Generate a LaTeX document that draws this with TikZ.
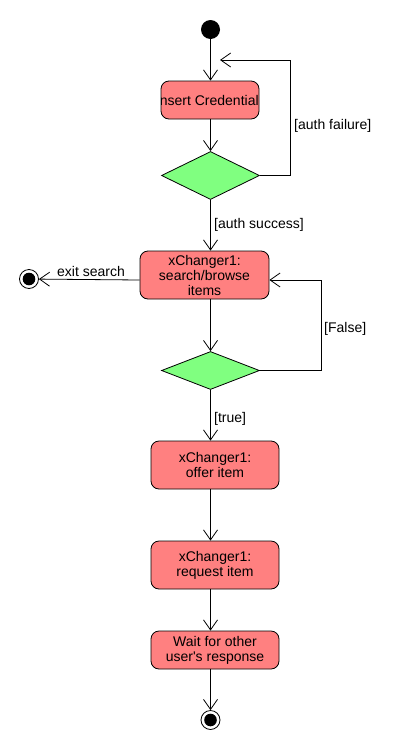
\documentclass[tikz,border=0pt]{standalone}
\usepackage{fontspec}
\setmainfont{Liberation Sans}
\usetikzlibrary{shapes.geometric,arrows.meta}
\definecolor{actred}{RGB}{255,128,128}
\definecolor{decgreen}{RGB}{128,255,128}
\begin{document}
\begin{tikzpicture}[x=1pt,y=-1pt,
  txt/.style={font=\fontsize{14}{15}\selectfont, inner sep=0pt},
  act/.style={draw=black, fill=actred, rounded corners=8pt, line width=0.8pt,
    align=center, txt, minimum width=#1},
  act/.default=128pt,
  dec/.style={draw=black, fill=decgreen, diamond, line width=0.8pt, inner sep=0pt,
    minimum width=98pt},
  arr/.style={line width=0.8pt, -{Straight Barb[length=10pt,width=14pt,line width=0.8pt]}},
  lbl/.style={txt, anchor=base west},
  finalnode/.style={circle, draw=black, line width=0.8pt, fill=white, minimum size=19pt, inner sep=0pt}
]
\useasboundingbox (0,0) rectangle (400,750);

% nodes
\node[circle, fill=black, minimum size=19pt, inner sep=0pt] (start) at (210.5,29.5) {};
\node[act=98pt, minimum height=38pt] (cred) at (210,100) {};
\begin{scope}
  \clip[rounded corners=8pt] (cred.south west) rectangle (cred.north east);
  \node[txt, anchor=east] (credtext) at ([xshift=-0.5pt]cred.east) {Insert Credential};
\end{scope}
\node[dec, minimum height=48pt] (d1) at (210.5,175.5) {};
\node[act=129pt, minimum height=48pt] (search) at (204.5,275) {xChanger1:\\search/browse\\items};
\node[finalnode] (exit) at (29,279) {};
\fill (exit.center) circle (6.3pt);
\node[dec, minimum height=38pt] (d2) at (210.5,370.5) {};
\node[act=128pt, minimum height=48pt] (offer) at (215,465) {xChanger1:\\offer item};
\node[act=128pt, minimum height=48pt] (request) at (215,565) {xChanger1:\\request item};
\node[act=128pt, minimum height=38pt] (wait) at (215,650) {Wait for other\\user\textquotesingle s response};
\node[finalnode] (end) at (210.5,720) {};
\fill (end.center) circle (6.3pt);
\coordinate (fail) at (220,60);

% connectors
\draw[arr] (start) -- (start |- cred.north);
\draw[arr] (start |- cred.south) -- (d1.north);
\draw[arr] (d1.east) -- (290,175.5) |- (fail);
\draw[arr] (d1.south) -- (d1.south |- search.north);
\draw[arr] (d1 |- search.south) -- (d2.north);
\draw[arr] ([yshift=-5pt]search.west) -- (exit);
\draw[arr] (d2.east) -- (321,370.5) |- ([yshift=-5pt]search.east);
\draw[arr] (d2.south) -- (d2.south |- offer.north);
\draw[arr] (d2 |- offer.south) -- (d2 |- request.north);
\draw[arr] (d2 |- request.south) -- (d2 |- wait.north);
\draw[arr] (d2 |- wait.south) -- (end);

% labels
\node[lbl] (lfail) at (294,129) {[auth failure]};
\node[lbl] (lsucc) at (214,228) {[auth success]};
\node[lbl] (lexit) at (57,276) {exit search};
\node[lbl] (lfalse) at (324,332) {[False]};
\node[lbl] (ltrue) at (214,422) {[true]};
\end{tikzpicture}
\end{document}
